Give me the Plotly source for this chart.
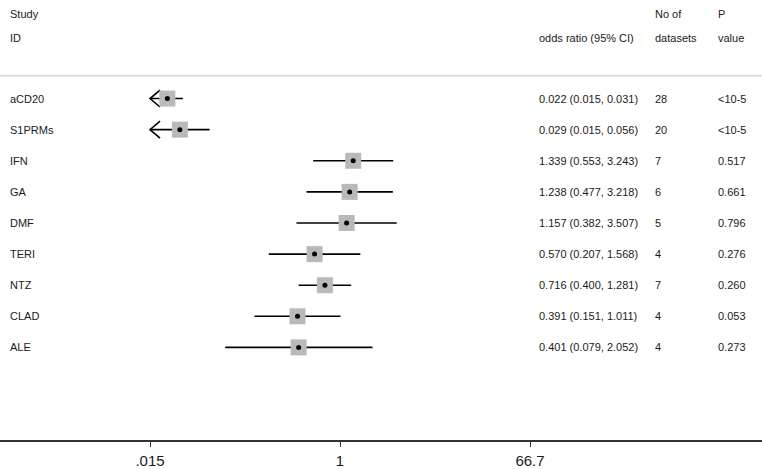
import math
import plotly.graph_objects as go

# ---- data ----
studies = ["aCD20", "S1PRMs", "IFN", "GA", "DMF", "TERI", "NTZ", "CLAD", "ALE"]
odds_ratio = [0.022, 0.029, 1.339, 1.238, 1.157, 0.570, 0.716, 0.391, 0.401]
ci_low = [0.015, 0.015, 0.553, 0.477, 0.382, 0.207, 0.400, 0.151, 0.079]
ci_high = [0.031, 0.056, 3.243, 3.218, 3.507, 1.568, 1.281, 1.011, 2.052]
n_datasets = [28, 20, 7, 6, 5, 4, 7, 4, 4]
p_values = ["<10-5", "<10-5", "0.517", "0.661", "0.796", "0.276", "0.260", "0.053", "0.273"]
tick_vals = [0.015, 1, 66.7]
tick_text = [".015", "1", "66.7"]

# ---- geometry ----
W, H = 762, 469
PLOT_H = 442
X_ONE_PX = 340
PX_PER_DEC = (530 - 150) / (2 * math.log10(66.7))
ROW0_PX, ROW_STEP = 99, 31.25
xmin_log = -X_ONE_PX / PX_PER_DEC
xmax_log = (W - X_ONE_PX) / PX_PER_DEC
y_top = -ROW0_PX / ROW_STEP
y_bot = (PLOT_H - ROW0_PX) / ROW_STEP
clip = tick_vals[0]

FONT = "Liberation Sans, Arial, sans-serif"
TXT = "#1a1a1a"

rows = list(range(len(studies)))
fig = go.Figure()

# whiskers
for i in rows:
    lo = max(ci_low[i], clip)
    fig.add_trace(go.Scatter(x=[lo, ci_high[i]], y=[i, i], mode="lines",
                             line=dict(color="black", width=1.6),
                             hoverinfo="skip", showlegend=False))
    if ci_low[i] <= clip:
        dx = 10 ** (10 / PX_PER_DEC)
        dy = 8.5 / ROW_STEP
        fig.add_trace(go.Scatter(x=[clip * dx, clip, clip * dx], y=[i - dy, i, i + dy],
                                 mode="lines", line=dict(color="black", width=1.6),
                                 hoverinfo="skip", showlegend=False))

# boxes
fig.add_trace(go.Scatter(x=odds_ratio, y=rows, mode="markers",
                         marker=dict(symbol="square", size=16, color="#b9b9b9",
                                     line=dict(width=0)),
                         showlegend=False, hoverinfo="skip"))
# dots
fig.add_trace(go.Scatter(x=odds_ratio, y=rows, mode="markers",
                         marker=dict(symbol="circle", size=5, color="black"),
                         showlegend=False, hoverinfo="skip"))

# reference lines
line_y_paper = 1 - 76 / PLOT_H
fig.add_shape(type="line", xref="paper", yref="paper", x0=0, x1=1,
              y0=line_y_paper, y1=line_y_paper, line=dict(color="#dcdcdc", width=2))
fig.add_shape(type="line", xref="x", yref="paper", x0=0, x1=0,
              y0=0, y1=line_y_paper, line=dict(color="#222", width=1.2))

# annotations
def txt(x_px, y, s, yref="y"):
    fig.add_annotation(x=x_px / W, xref="paper", y=y, yref=yref, text=s,
                       showarrow=False, xanchor="left", yanchor="middle",
                       font=dict(family=FONT, size=11, color=TXT))

h1 = 1 - 14 / PLOT_H
h2 = 1 - 38 / PLOT_H
txt(8, h1, "Study", "paper")
txt(8, h2, "ID", "paper")
txt(537, h2, "odds ratio (95% CI)", "paper")
txt(653, h1, "No of", "paper")
txt(653, h2, "datasets", "paper")
txt(716, h1, "P", "paper")
txt(716, h2, "value", "paper")

for i in rows:
    txt(8, i, studies[i])
    txt(537, i, f"{odds_ratio[i]:.3f} ({ci_low[i]:.3f}, {ci_high[i]:.3f})")
    txt(653, i, str(n_datasets[i]))
    txt(716, i, p_values[i])

fig.update_layout(
    width=W, height=H,
    margin=dict(l=0, r=0, t=0, b=H - PLOT_H),
    paper_bgcolor="white", plot_bgcolor="white",
    font=dict(family=FONT, color=TXT),
    xaxis=dict(type="log", range=[xmin_log, xmax_log], tickvals=tick_vals,
               ticktext=tick_text, ticks="outside", ticklen=5, tickwidth=1.2,
               tickcolor="#333", showline=True, linecolor="#333", linewidth=1.6,
               showgrid=False, zeroline=False, tickfont=dict(size=15, color=TXT),
               ticklabelstandoff=1),
    yaxis=dict(range=[y_bot, y_top], showticklabels=False, showgrid=False,
               zeroline=False, showline=False, ticks=""),
    showlegend=False,
)

fig.write_html("out.html", config={"displayModeBar": False},
               post_script="document.body.style.margin='0';document.body.style.overflow='hidden';")
